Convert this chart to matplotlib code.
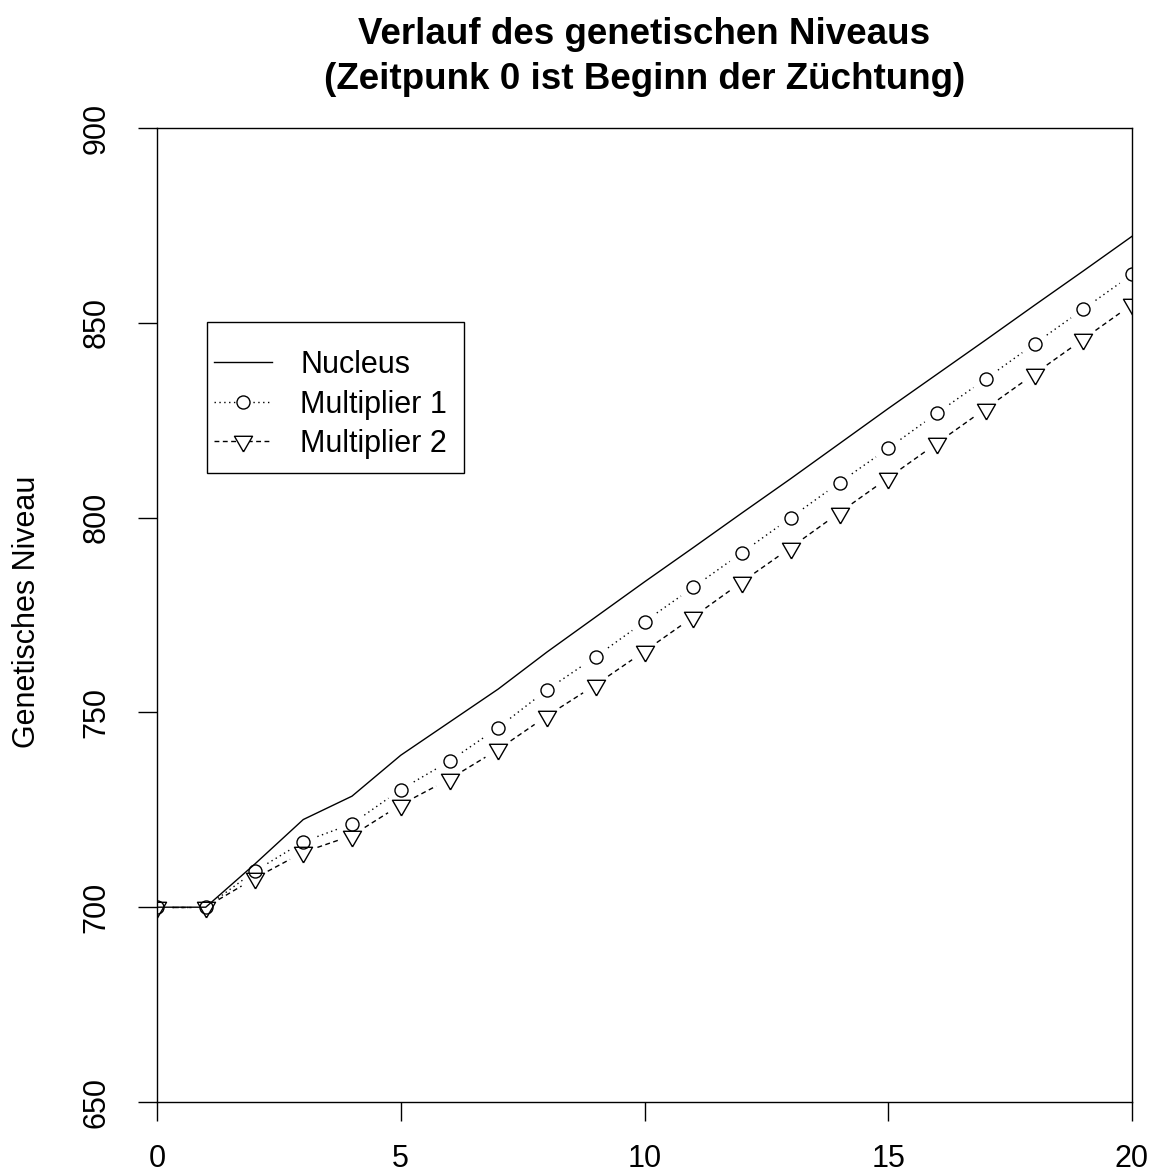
import numpy as np
import matplotlib
matplotlib.use("Agg")
import matplotlib.pyplot as plt
from matplotlib.lines import Line2D
from matplotlib.patches import Rectangle

plt.rcParams['font.family'] = ['Liberation Sans', 'DejaVu Sans']

# Zeitpunkte (Generationen) und genetisches Niveau je Stufe
zeit = list(range(0, 21))
nucleus = [700, 700, 711.0, 722.5, 728.5, 739.0, 747.5, 756.0, 765.5, 774.5, 783.5,
           792.3, 801.2, 810.0, 819.0, 828.0, 836.8, 845.6, 854.5, 863.3, 872.2]
multiplier1 = [700, 700, 709.2, 716.8, 721.4, 730.2, 737.5, 746.1, 755.8, 764.3, 773.3,
               782.1, 791.0, 800.0, 809.0, 817.8, 826.8, 835.6, 844.6, 853.5, 862.4]
multiplier2 = [700, 700, 707.4, 714.1, 718.4, 726.3, 732.9, 740.5, 749.1, 757.1, 765.7,
               774.5, 783.5, 792.3, 801.3, 810.2, 819.1, 828.0, 836.9, 845.8, 854.7]

x_ticks = [0, 5, 10, 15, 20]
y_ticks = [650, 700, 750, 800, 850, 900]

W, H = 1160, 1174
fig = plt.figure(figsize=(W / 100, H / 100), dpi=100)
ax = fig.add_axes([157 / W, 1 - 1102 / H, 975 / W, 974 / H])
ax.set_xlim(0, 20)
ax.set_ylim(650, 900)

# downward triangle centred on its circumcentre (like R's pch = 6)
tri = [(0, -1), (-0.866, 0.5), (0.866, 0.5), (0, -1)]

dotted = (0, (1, 2.5))
dashed = (0, (3.5, 2.5))


def gapped_line(ax, x, y, gap_px, **kw):
    # draw a line through the points, leaving a gap around each point
    pts = ax.transData.transform(np.column_stack([x, y]))
    inv = ax.transData.inverted()
    for p, q in zip(pts[:-1], pts[1:]):
        d = q - p
        L = np.hypot(d[0], d[1])
        if L <= 2 * gap_px:
            continue
        u = d / L
        a = inv.transform(p + u * gap_px)
        b = inv.transform(q - u * gap_px)
        ax.plot([a[0], b[0]], [a[1], b[1]], **kw)


gap = 15
gapped_line(ax, zeit, multiplier1, gap, color='black', lw=1, linestyle=dotted)
gapped_line(ax, zeit, multiplier2, gap, color='black', lw=1, linestyle=dashed)
ax.plot(zeit, multiplier1, linestyle='none', marker='o', ms=9.4, mfc='none',
        mec='black', mew=1)
ax.plot(zeit, multiplier2, linestyle='none', marker=tri, ms=15, mfc='none',
        mec='black', mew=1)
ax.plot(zeit, nucleus, color='black', lw=1)

for s in ax.spines.values():
    s.set_linewidth(1)
ax.set_xticks(x_ticks)
ax.set_yticks(y_ticks)
ax.tick_params(direction='out', length=14, width=1, labelsize=22, pad=19)
ax.tick_params(axis='x', pad=16.5)
ax.tick_params(axis='y', labelrotation=90)
for lbl in ax.get_yticklabels():
    lbl.set_va('center')

fig.text(644.5 / W, 1 - 57 / H,
         "Verlauf des genetischen Niveaus\n(Zeitpunk 0 ist Beginn der Züchtung)",
         ha='center', va='center', fontsize=26.5, fontweight='bold', linespacing=1.35)
fig.text(27 / W, 1 - 612 / H, "Genetisches Niveau", rotation=90,
         ha='center', va='center', fontsize=22)

# legend
handles = [
    Line2D([], [], color='black', lw=1),
    Line2D([], [], color='black', lw=1, linestyle=dotted, marker='o', ms=9.4,
           mfc='white', mec='black', mew=1),
    Line2D([], [], color='black', lw=1, linestyle=dashed, marker=tri, ms=15,
           mfc='white', mec='black', mew=1),
]
ax.legend(handles, ['Nucleus', 'Multiplier 1', 'Multiplier 2'],
          loc='upper left', bbox_to_anchor=(0.0585, 0.772), frameon=False,
          borderpad=0, borderaxespad=0, handlelength=1.9, handletextpad=0.92,
          labelspacing=0.31, fontsize=22, numpoints=1)
ax.add_patch(Rectangle((0.0513, 0.6458), 0.2636, 0.155, transform=ax.transAxes,
                       fill=False, lw=1, ec='black'))

fig.savefig("out.png", dpi=100)
